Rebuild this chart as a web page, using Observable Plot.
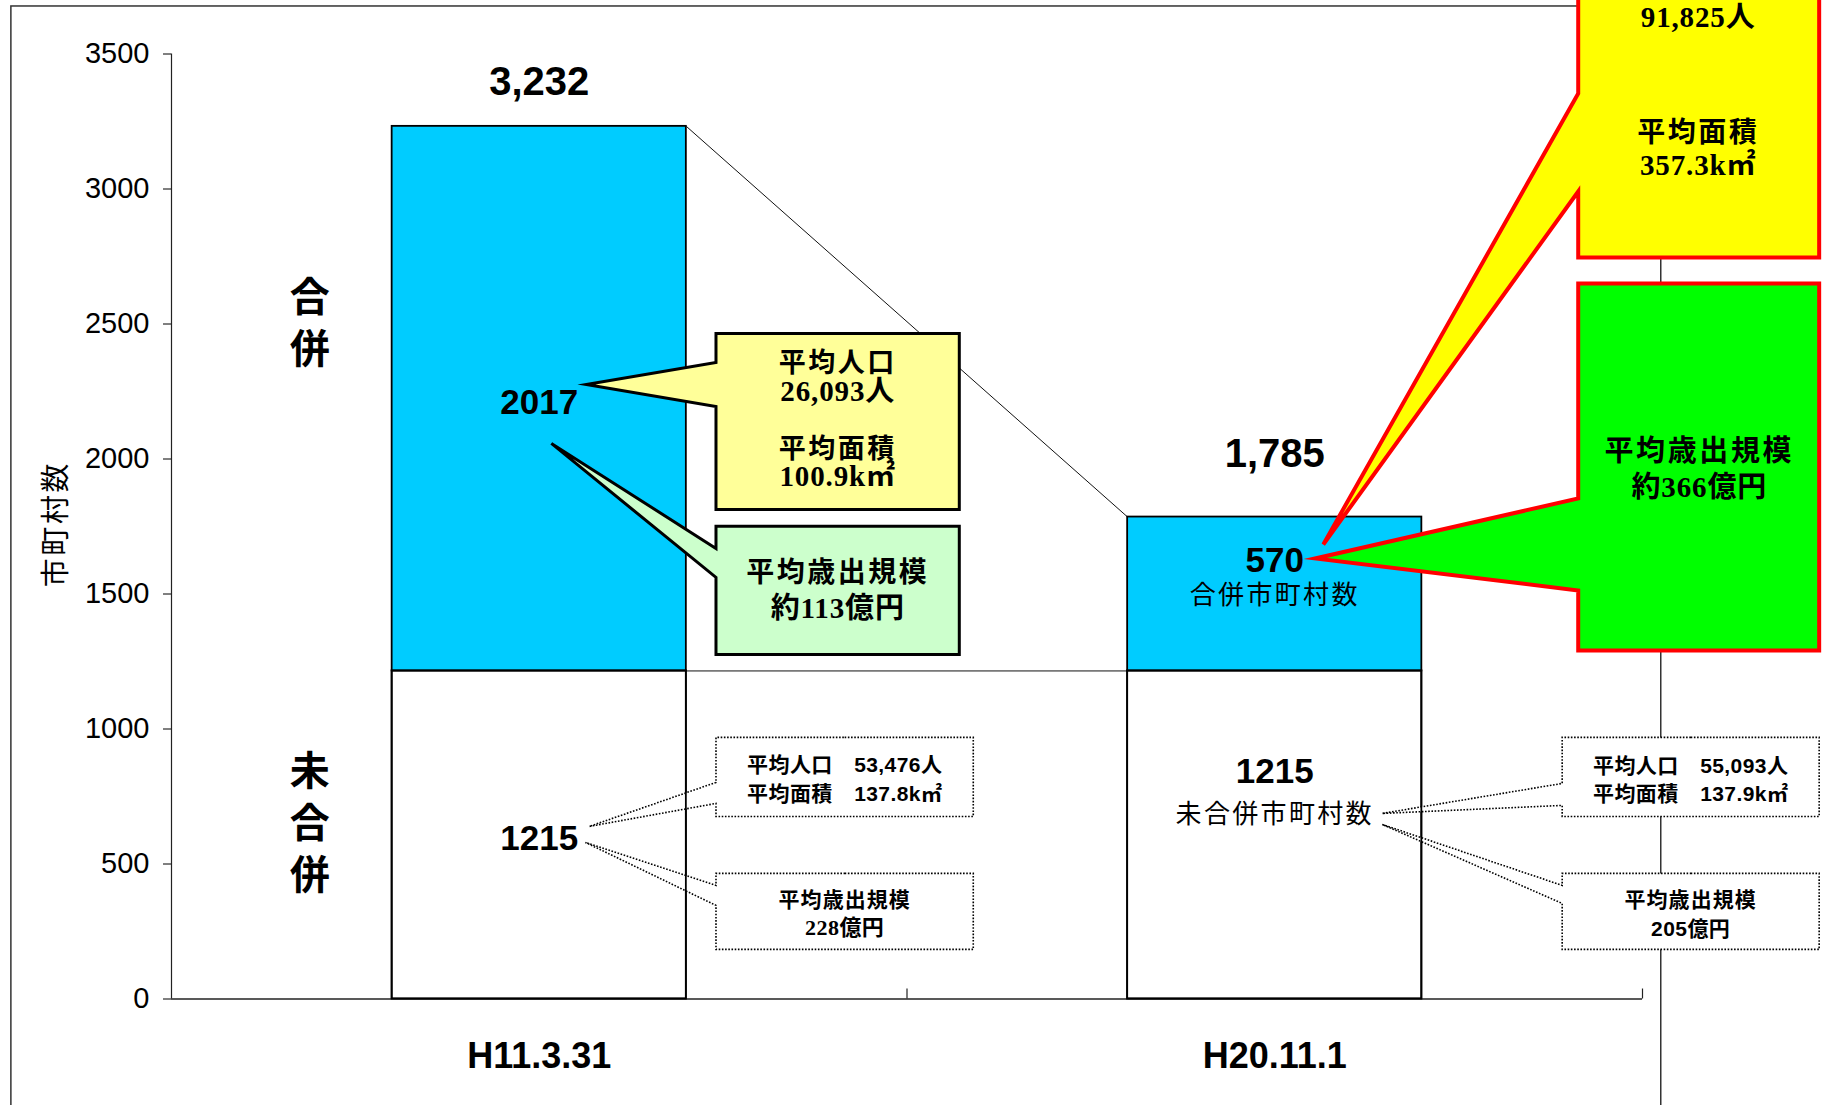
<!DOCTYPE html>
<html>
<head>
<meta charset="utf-8">
<script src="https://cdn.jsdelivr.net/npm/d3@7"></script>
<script src="https://cdn.jsdelivr.net/npm/@observablehq/plot@0.6"></script>
<style>
html, body { margin: 0; padding: 0; background: #fff; overflow: hidden; }
</style>
</head>
<body>
<div id="chart"></div>
<script>
// ---------- data ----------
const categories = ["H11.3.31", "H20.11.1"];
const unmergedCounts = [1215, 1215];   // 未合併市町村数
const mergedCounts = [2017, 570];      // 合併 (上段)
const totalCounts = [3232, 1785];
const yTicks = [0, 500, 1000, 1500, 2000, 2500, 3000, 3500];

const statLabels = ["平均人口", "平均面積", "平均歳出規模"];
const mergedPop = ["26,093人", "91,825人"];
const mergedArea = ["100.9k㎡", "357.3k㎡"];
const mergedBudget = ["約113億円", "約366億円"];
const unmergedPop = ["53,476人", "55,093人"];
const unmergedArea = ["137.8k㎡", "137.9k㎡"];
const unmergedBudget = ["228億円", "205億円"];

// ---------- fonts / styles ----------
const SANS = "'Liberation Sans', Arial, 'Noto Sans CJK JP', sans-serif";
const SERIF = "'Liberation Serif', 'Times New Roman', 'Noto Sans CJK JP', serif";
const CJK = "'Noto Sans CJK JP', 'Noto Sans CJK SC', sans-serif";
const BLUE = "#00CCFF";

const rows = categories.map((c, i) => ({
  c, i, unmerged: unmergedCounts[i], merged: mergedCounts[i], total: totalCounts[i]
}));

// ---------- layout (data units) ----------
const totalLabelOffset = [164, 232];
const mergedLabelY = [2207, 1622];
const unmergedLabelY = [595, 843];

function poly(c) {
  const xm = (c.x1 + c.x2) / 2;
  return [[xm, c.top], [c.x2, c.top], [c.x2, c.bot], [c.x1, c.bot], [c.x1, c.b],
          [c.tx, c.ty], [c.x1, c.a], [c.x1, c.top], [xm, c.top]].map(([x, y]) => ({x, y}));
}
const calloutYellowL = {x1: 0.7403, x2: 1.0711, top: 2465, bot: 1813, a: 2357.6, b: 2194.6, tx: 0.5640, ty: 2276};
const calloutGreenL  = {x1: 0.7403, x2: 1.0711, top: 1751, bot: 1276, a: 1668.7, b: 1561.3, tx: 0.5165, ty: 2057.6};
const dotL1 = {x1: 0.7403, x2: 1.0901, top: 968.8, bot: 676.2, a: 802.2, b: 724.4, tx: 0.5681, ty: 639.2};
const dotL2 = {x1: 0.7403, x2: 1.0901, top: 465.1, bot: 183.7, a: 420.7, b: 346.7, tx: 0.5627, ty: 579.9};
const dotR1 = {x1: 1.8908, x2: 2.2402, top: 968.8, bot: 676.2, a: 798.4, b: 717.0, tx: 1.6461, ty: 687.3};
const dotR2 = {x1: 1.8908, x2: 2.2402, top: 465.1, bot: 183.7, a: 420.7, b: 354.0, tx: 1.6461, ty: 646.6};
const bigYellow = {x1: 1.9126, x2: 2.2402, top: 3994, bot: 2746.4, a: 3353.7, b: 2990.8, tx: 1.5660, ty: 1683.5};
const bigGreen  = {x1: 1.9126, x2: 2.2402, top: 2650.1, bot: 1291, a: 1853.9, b: 1513.2, tx: 1.5550, ty: 1631.7};

const solid = {strokeWidth: 3, strokeLinejoin: "miter", strokeMiterlimit: 10, strokeLinecap: "butt"};
const dotted = {fill: "white", stroke: "black", strokeWidth: 1.6, strokeDasharray: "1.6,1.6",
                strokeLinejoin: "miter", strokeMiterlimit: 10, strokeLinecap: "butt"};

function T(x, y, text, o = {}) {
  const opts = {x: "x", y: "y", text: "text", fill: "black",
    fontSize: o.size ?? 28, fontWeight: o.weight ?? "bold", fontFamily: o.family ?? CJK};
  if (o.lh) opts.lineHeight = o.lh;
  if (o.rotate) opts.rotate = o.rotate;
  return Plot.text([{x, y, text}], opts);
}

const fmt = d3.format(",");

const svg = Plot.plot({
  width: 1825, height: 1105,
  marginLeft: 171, marginRight: 183, marginTop: 53.5, marginBottom: 106.5,
  x: {domain: [0, 2], axis: null},
  y: {domain: [0, 3500], axis: null},
  style: {fontFamily: SANS, fontSize: "29px", background: "white", color: "black"},
  marks: [
    // outer frame of chart area
    Plot.rect([{x1: -0.2177, x2: 2.0255, y1: -600, y2: 3676}],
      {x1: "x1", x2: "x2", y1: "y1", y2: "y2", fill: "none", stroke: "#333", strokeWidth: 1.5}),
    // connector lines between bars
    Plot.link([{x1: 0.7, y1: totalCounts[0], x2: 1.3, y2: totalCounts[1]},
               {x1: 0.7, y1: unmergedCounts[0], x2: 1.3, y2: unmergedCounts[1]}],
      {x1: "x1", y1: "y1", x2: "x2", y2: "y2", stroke: "#111", strokeWidth: 1}),
    // bars
    Plot.rect(rows, {x1: d => d.i + 0.3, x2: d => d.i + 0.7, y1: d => 0, y2: "unmerged",
      fill: "white", stroke: "black", strokeWidth: 1.8}),
    Plot.rect(rows, {x1: d => d.i + 0.3, x2: d => d.i + 0.7, y1: "unmerged", y2: "total",
      fill: BLUE, stroke: "black", strokeWidth: 1.8}),
    // axes lines
    Plot.ruleX([0], {y1: d => 0, y2: d => 3500, stroke: "#222", strokeWidth: 1.2}),
    Plot.ruleY([0], {x1: d => 0, x2: d => 2, stroke: "#222", strokeWidth: 1.6}),
    Plot.ruleX([1, 2], {y1: d => 0, y2: d => 37, stroke: "#222", strokeWidth: 1.2}),
    Plot.axisY({ticks: yTicks, tickFormat: d => String(d), tickSize: 8, tickPadding: 14,
      fontSize: 29, label: null, anchor: "left"}),
    Plot.axisX({ticks: [0.5, 1.5], tickFormat: v => categories[Math.floor(v)], tickSize: 0,
      tickPadding: 43, fontSize: 36, fontWeight: "bold", label: null, anchor: "bottom"}),
    // dotted callouts (un-merged)
    Plot.line(poly(dotL1), {x: "x", y: "y", ...dotted}),
    Plot.line(poly(dotL2), {x: "x", y: "y", ...dotted}),
    Plot.line(poly(dotR1), {x: "x", y: "y", ...dotted}),
    Plot.line(poly(dotR2), {x: "x", y: "y", ...dotted}),
    // bar outline redraw (on top of dotted pointers)
    Plot.rect(rows, {x1: d => d.i + 0.3, x2: d => d.i + 0.7, y1: d => 0, y2: "unmerged",
      fill: "none", stroke: "black", strokeWidth: 1.8}),
    // solid callouts (merged)
    Plot.line(poly(calloutYellowL), {x: "x", y: "y", fill: "#FFFF99", stroke: "black", ...solid}),
    Plot.line(poly(calloutGreenL), {x: "x", y: "y", fill: "#CCFFCC", stroke: "black", ...solid}),
    Plot.line(poly(bigYellow), {x: "x", y: "y", fill: "#FFFF00", stroke: "#FF0000", ...solid, strokeWidth: 4}),
    Plot.line(poly(bigGreen), {x: "x", y: "y", fill: "#00FF00", stroke: "#FF0000", ...solid, strokeWidth: 4}),

    // value labels
    Plot.text(rows, {x: d => d.i + 0.5, y: d => d.total + totalLabelOffset[d.i], text: d => fmt(d.total),
      fontSize: 40, fontWeight: "bold", fontFamily: SANS, fill: "black"}),
    Plot.text(rows, {x: d => d.i + 0.5, y: d => mergedLabelY[d.i], text: d => String(d.merged),
      fontSize: 35, fontWeight: "bold", fontFamily: SANS, fill: "black"}),
    Plot.text(rows, {x: d => d.i + 0.5, y: d => unmergedLabelY[d.i], text: d => String(d.unmerged),
      fontSize: 35, fontWeight: "bold", fontFamily: SANS, fill: "black"}),
    T(1.5, 1492, "合併市町村数", {size: 26, weight: "normal"}),
    T(1.5, 681, "未合併市町村数", {size: 26, weight: "normal"}),

    // side labels
    T(0.188, 2515, "合\n併", {size: 40, lh: 1.3}),
    T(0.188, 661, "未\n合\n併", {size: 40, lh: 1.3}),
    T(-0.1565, 1759, "市町村数", {size: 29, weight: "normal", rotate: -90}),

    // left yellow callout
    T(0.9058, 2356, statLabels[0], {size: 27}),
    T(0.9058, 2248, mergedPop[0], {size: 29, family: SERIF}),
    T(0.9058, 2034, statLabels[1], {size: 27}),
    T(0.9058, 1933, mergedArea[0], {size: 29, family: SERIF}),
    // left green callout
    T(0.9058, 1576, statLabels[2], {size: 28}),
    T(0.9058, 1446.5, mergedBudget[0], {size: 29, family: SERIF}),
    // dotted left
    T(0.9153, 866, statLabels[0] + "\u3000" + unmergedPop[0], {size: 21, family: SANS}),
    T(0.9153, 760, statLabels[1] + "\u3000" + unmergedArea[0], {size: 21, family: SANS}),
    T(0.9153, 366, statLabels[2], {size: 21}),
    T(0.9153, 264, unmergedBudget[0], {size: 22, family: SERIF}),
    // dotted right
    T(2.0655, 862, statLabels[0] + "\u3000" + unmergedPop[1], {size: 21, family: SANS}),
    T(2.0655, 760, statLabels[1] + "\u3000" + unmergedArea[1], {size: 21, family: SANS}),
    T(2.0655, 366, statLabels[2], {size: 21}),
    T(2.0655, 260, unmergedBudget[1], {size: 21, family: SANS}),
    // big yellow
    T(2.0757, 3636, mergedPop[1], {size: 29, family: SERIF}),
    T(2.0757, 3209, statLabels[1], {size: 28}),
    T(2.0757, 3087, mergedArea[1], {size: 29, family: SERIF}),
    // big green
    T(2.0772, 2026, statLabels[2], {size: 29}),
    T(2.0772, 1892, mergedBudget[1], {size: 29, family: SERIF})
  ]
});
document.getElementById("chart").append(svg);

// letter spacing for Japanese labels (pure Japanese text wider, mixed text tighter)
const cjk = /[\u3000-\u9fff\uff00-\uffef]/;
const digit = /[0-9]/;
svg.querySelectorAll("text").forEach(t => {
  if (t.querySelector("tspan")) return;
  const s = t.textContent;
  if (!cjk.test(s)) return;
  const fs = parseFloat(getComputedStyle(t).fontSize);
  let ls;
  if (digit.test(s)) ls = fs < 24 ? 0.02 : 0.03;
  else ls = fs < 24 ? 0.05 : 0.09;
  t.style.letterSpacing = ls + "em";
});
</script>
</body>
</html>
